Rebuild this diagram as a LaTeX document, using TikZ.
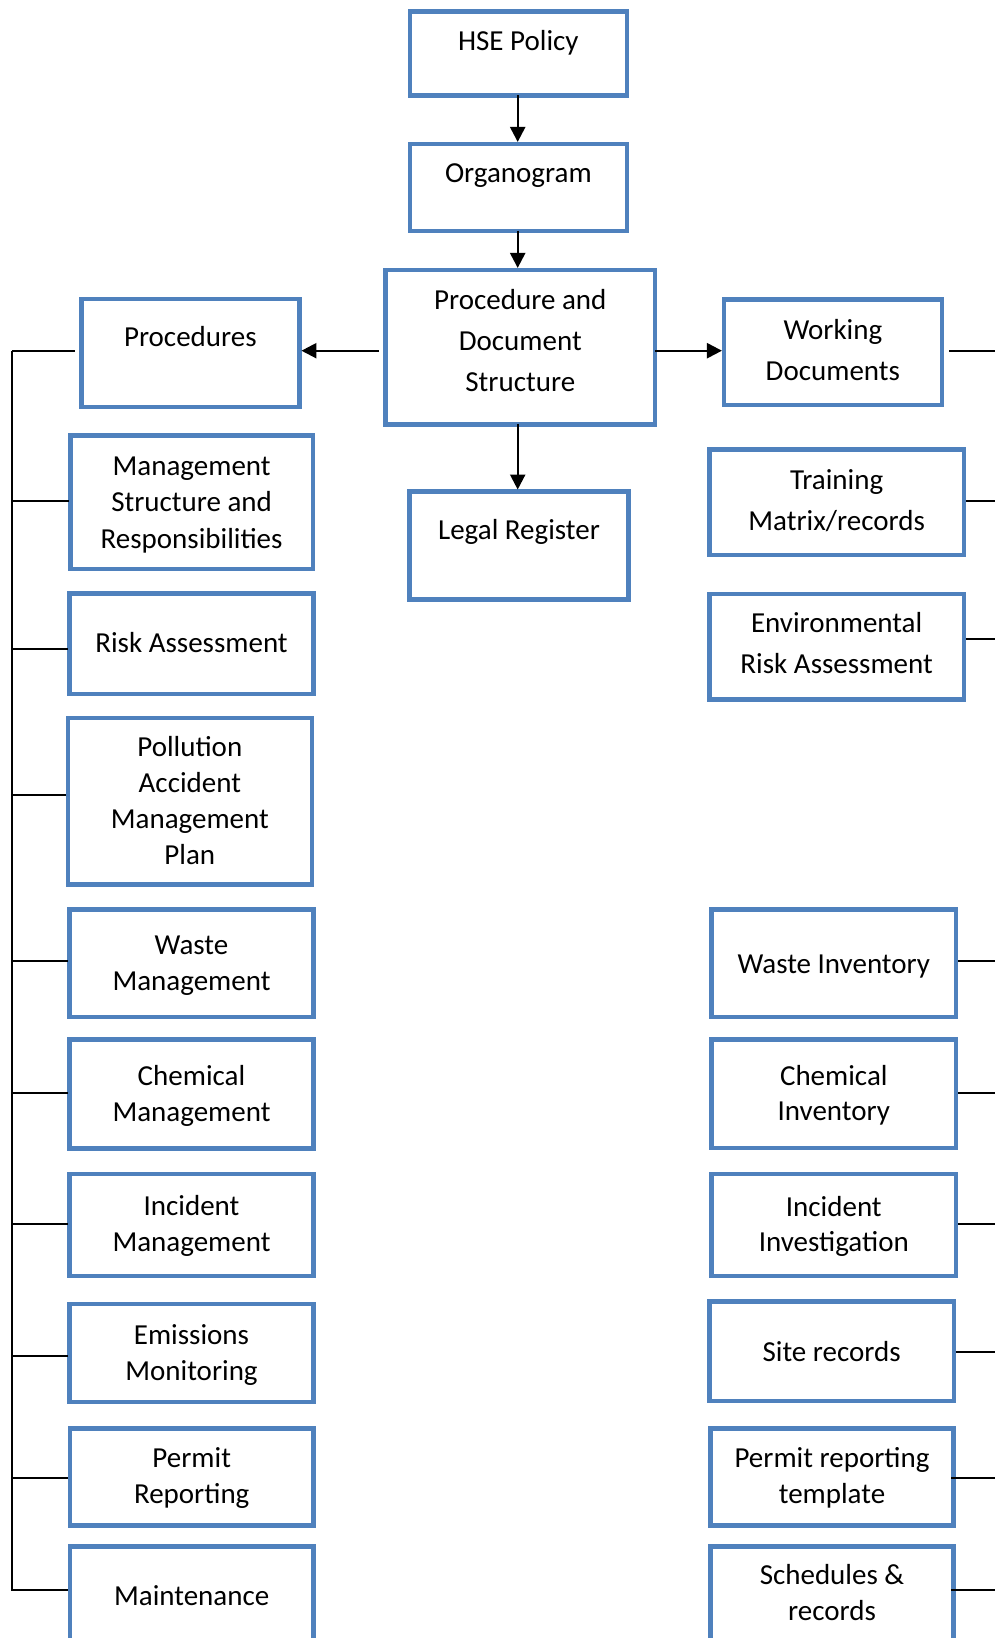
\documentclass[tikz,border=0pt]{standalone}
\usepackage{fontspec}
\setmainfont{Carlito}
\usetikzlibrary{arrows.meta}
\definecolor{boxblue}{HTML}{4F81BD}
\newcommand\tl[1]{\begin{tabular}[t]{@{}c@{}}#1\end{tabular}}
% name, x1, y1, x2, y2 (outer edges, px)
\newcommand\mybox[5]{\node[boxst, minimum width={#4-#2-4.5}, minimum height={#5-#3-4.5}] (#1) at ({(#2+#4)/2},{(#3+#5)/2}) {};}
\begin{document}
\begin{tikzpicture}[x=1pt,y=-1pt,
  boxst/.style={draw=boxblue, line width=4.5pt, fill=white, inner sep=0pt, outer sep=0pt},
  txt/.style={inner sep=0pt, outer sep=0pt, anchor=base, font=\fontsize{29}{36}\selectfont},
  wide/.style={font=\fontsize{29}{41}\selectfont},
  conn/.style={draw=black, line width=2.3pt},
  arr/.style={conn, -{Triangle[length=15pt,width=15pt]}, shorten >=2pt}]
\useasboundingbox (0,0) rectangle (995,1638);
\clip (0,0) rectangle (995,1638);
\fill[white] (0,0) rectangle (995,1638);

% boxes
\mybox{hse}{407.7}{9.3}{629}{97.7}
\mybox{org}{407.7}{141.7}{629}{233}
\mybox{pds}{383.3}{267.7}{657.3}{426.7}
\mybox{legal}{407.3}{489.3}{630.7}{601.7}
\mybox{proc}{79}{296.7}{301.7}{409.3}
\mybox{mgmt}{68.3}{433.3}{315}{571}
\mybox{risk}{67.3}{591}{315.7}{696}
\mybox{poll}{65.7}{715.7}{314}{886.7}
\mybox{wastem}{67.3}{907.3}{315.7}{1019}
\mybox{chemm}{67.3}{1037.3}{315.7}{1150.7}
\mybox{incm}{67.3}{1171.7}{315.7}{1278.3}
\mybox{emis}{67.3}{1301.7}{315.7}{1404.3}
\mybox{permr}{67.7}{1426}{315.7}{1527.7}
\mybox{maint}{67.7}{1544.3}{315.7}{1665}
\mybox{wd}{721.7}{297.3}{944}{407.3}
\mybox{train}{707.3}{447.3}{966}{557.3}
\mybox{env}{707.3}{591.7}{966}{701.7}
\mybox{wastei}{709.3}{907.3}{958.3}{1019}
\mybox{chemi}{709.3}{1037.3}{958.3}{1150}
\mybox{inci}{709.3}{1171.7}{958.3}{1278.3}
\mybox{site}{707.3}{1299.3}{956}{1403.3}
\mybox{permt}{708.3}{1426}{955.7}{1527.7}
\mybox{sched}{708.3}{1544.3}{955.7}{1665}

% texts
\node[txt] (hseT) at (hse.center |- 0,50.7) {HSE Policy};
\node[txt] (orgT) at (org.center |- 0,182.7) {Organogram};
\node[txt,wide] (pdsT) at (pds.center |- 0,309.3) {\tl{Procedure and\\Document\\Structure}};
\node[txt] (legalT) at (legal.center |- 0,539.3) {Legal Register};
\node[txt] (procT) at (proc.center |- 0,346.7) {Procedures};
\node[txt,font=\fontsize{29}{36.6}\selectfont] (mgmtT) at (mgmt.center |- 0,475) {\tl{Management\\Structure and\\Responsibilities}};
\node[txt] (riskT) at (risk.center |- 0,652.7) {Risk Assessment};
\node[txt] (pollT) at (poll.center |- 0,756.7) {\tl{Pollution\\Accident\\Management\\Plan}};
\node[txt] (wastemT) at (wastem.center |- 0,954.3) {\tl{Waste\\Management}};
\node[txt] (chemmT) at (chemm.center |- 0,1085.7) {\tl{Chemical\\Management}};
\node[txt] (incmT) at (incm.center |- 0,1215) {\tl{Incident\\Management}};
\node[txt] (emisT) at (emis.center |- 0,1344.3) {\tl{Emissions\\Monitoring}};
\node[txt] (permrT) at (permr.center |- 0,1467.3) {\tl{Permit\\Reporting}};
\node[txt] (maintT) at (maint.center |- 0,1605) {Maintenance};
\node[txt,wide] (wdT) at (wd.center |- 0,339.3) {\tl{Working\\Documents}};
\node[txt,wide] (trainT) at (train.center |- 0,489.3) {\tl{Training\\Matrix/records}};
\node[txt,wide] (envT) at (env.center |- 0,632.7) {\tl{Environmental\\Risk Assessment}};
\node[txt] (wasteiT) at (wastei.center |- 0,973.3) {Waste Inventory};
\node[txt,font=\fontsize{29}{35.3}\selectfont] (chemiT) at (chemi.center |- 0,1085) {\tl{Chemical\\Inventory}};
\node[txt,font=\fontsize{29}{35.7}\selectfont] (inciT) at (inci.center |- 0,1216) {\tl{Incident\\Investigation}};
\node[txt] (siteT) at (site.center |- 0,1361.7) {Site records};
\node[txt] (permtT) at (permt.center |- 0,1467.3) {\tl{Permit reporting\\template}};
\node[txt] (schedT) at (sched.center |- 0,1584) {\tl{Schedules \&\\records}};

% arrows down the centre
\coordinate (axis) at (517.7,0);
\draw[arr] (axis |- hse.south) -- (axis |- org.north);
\draw[arr] (axis |- org.south) -- (axis |- pds.north);
\draw[arr] (axis |- pds.south) -- (axis |- legal.north);
\coordinate (mid) at (0,350.7);
\draw[arr] ([xshift=-6.5pt]pds.west |- mid) -- (proc.east |- mid);
\draw[arr] (pds.east |- mid) -- (wd.west |- mid);

% left bus
\coordinate (Ltop) at (11.8,350.7);
\coordinate (Lbot) at (11.8,1590.7);
\draw[conn] (Ltop) -- (Lbot);
\coordinate (L1) at (11.8,350.7);
\coordinate (L2) at (11.8,500.7);
\coordinate (L3) at (11.8,649);
\coordinate (L4) at (11.8,795);
\coordinate (L5) at (11.8,961);
\coordinate (L6) at (11.8,1092.7);
\coordinate (L7) at (11.8,1224);
\coordinate (L8) at (11.8,1355.7);
\coordinate (L9) at (11.8,1478.3);
\coordinate (L10) at (11.8,1590);
\draw[conn] (L1) -- ([xshift=-6pt]L1 -| proc.west);
\draw[conn] (L2) -- ([xshift=-2pt]L2 -| mgmt.west);
\draw[conn] (L3) -- ([xshift=-2pt]L3 -| risk.west);
\draw[conn] (L4) -- ([xshift=-2pt]L4 -| poll.west);
\draw[conn] (L5) -- ([xshift=-2pt]L5 -| wastem.west);
\draw[conn] (L6) -- ([xshift=-2pt]L6 -| chemm.west);
\draw[conn] (L7) -- ([xshift=-2pt]L7 -| incm.west);
\draw[conn] (L8) -- ([xshift=-2pt]L8 -| emis.west);
\draw[conn] (L9) -- ([xshift=-2pt]L9 -| permr.west);
\draw[conn] (L10) -- ([xshift=-2pt]L10 -| maint.west);

% right stubs
\coordinate (R1) at (995,351);
\coordinate (R2) at (995,500.7);
\coordinate (R3) at (995,639);
\coordinate (R4) at (995,960.7);
\coordinate (R5) at (995,1092.7);
\coordinate (R6) at (995,1224.3);
\coordinate (R7) at (995,1352.3);
\coordinate (R8) at (995,1477.7);
\coordinate (R9) at (995,1590);
\draw[conn] ([xshift=7.5pt]R1 -| wd.east) -- (R1);
\draw[conn] ([xshift=2pt]R2 -| train.east) -- (R2);
\draw[conn] ([xshift=2pt]R3 -| env.east) -- (R3);
\draw[conn] ([xshift=2pt]R4 -| wastei.east) -- (R4);
\draw[conn] ([xshift=2pt]R5 -| chemi.east) -- (R5);
\draw[conn] ([xshift=2pt]R6 -| inci.east) -- (R6);
\draw[conn] ([xshift=2pt]R7 -| site.east) -- (R7);
\draw[conn] ([xshift=-2pt]R8 -| permt.east) -- (R8);
\draw[conn] ([xshift=-2pt]R9 -| sched.east) -- (R9);
\end{tikzpicture}
\end{document}
